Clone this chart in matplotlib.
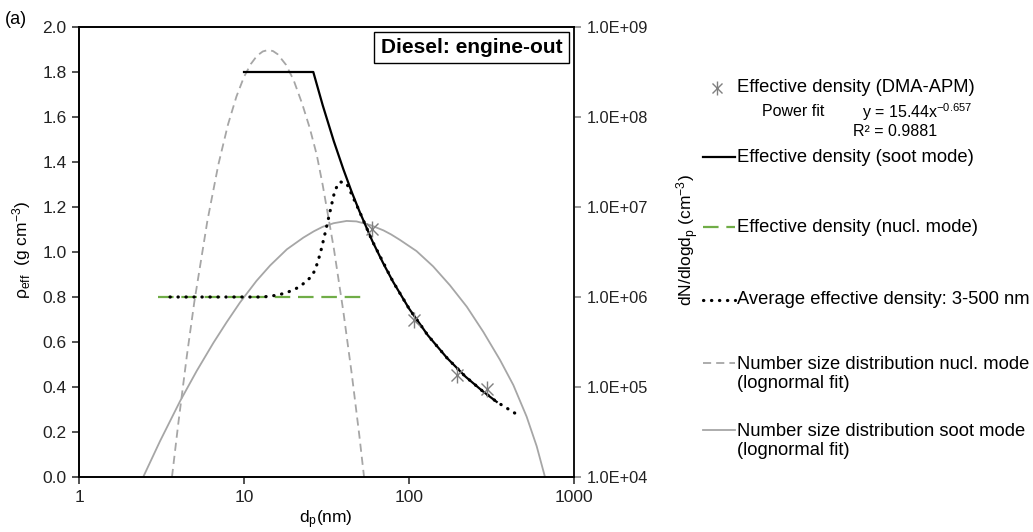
import matplotlib
matplotlib.use("Agg")
import matplotlib.pyplot as plt
from matplotlib.lines import Line2D
from matplotlib.ticker import FixedLocator, FixedFormatter, NullLocator

plt.rcParams['font.family'] = ['Liberation Sans', 'DejaVu Sans']
plt.rcParams['mathtext.fontset'] = 'custom'
plt.rcParams['mathtext.rm'] = 'Liberation Sans'
plt.rcParams['mathtext.it'] = 'Liberation Sans:italic'

# Effective density measured with DMA-APM
dma_dp = [60, 107, 196, 295]
dma_rho = [1.10, 0.70, 0.455, 0.39]

# Effective density of soot mode (power fit, capped at 1.8)
soot_dp = [10, 26.3, 30, 35, 40, 45, 50, 60, 70, 80, 100, 130, 170, 220, 280, 340]
soot_rho = [1.80, 1.80, 1.652, 1.493, 1.368, 1.266, 1.182, 1.048, 0.948, 0.868,
            0.749, 0.630, 0.529, 0.446, 0.381, 0.334]

# Effective density of nucleation mode
nucl_dp = [3.0, 51]
nucl_rho = [0.80, 0.80]

# Average effective density 3-500 nm
avg_dp = [3.56, 6, 10, 13, 15.5, 18, 21, 23.5, 25.5, 27, 29, 31, 33.2, 35.6, 38.2,
          41.9, 50, 60, 80, 100, 130, 170, 220, 280, 340, 440]
avg_rho = [0.80, 0.80, 0.80, 0.80, 0.807, 0.818, 0.84, 0.865, 0.89, 0.92, 0.994,
           1.083, 1.179, 1.276, 1.312, 1.305, 1.182, 1.048, 0.868, 0.749, 0.630,
           0.529, 0.446, 0.381, 0.334, 0.283]

# Number size distribution, nucleation mode (lognormal fit)
nsd_nucl_dp = [3.66, 4, 4.5, 5, 6, 7, 8, 9, 10, 11, 12, 13, 14, 15, 16, 18, 20,
               22.5, 25, 27.6, 30, 35, 40, 45, 50, 53.4]
nsd_nucl_n = [1.0e4, 3.97e4, 2.19e5, 8.83e5, 7.03e6, 2.99e7, 8.26e7, 1.69e8, 2.79e8,
              3.88e8, 4.80e8, 5.35e8, 5.55e8, 5.4e8, 4.98e8, 3.79e8, 2.56e8,
              1.41e8, 7.6e7, 3.8e7, 1.75e7, 3.5e6, 6.9e5, 1.39e5, 2.89e4, 1.0e4]

# Number size distribution, soot mode (lognormal fit)
nsd_soot_dp = [2.45, 3.10, 4.09, 5.17, 6.52, 7.85, 9.46, 11.9, 14.4, 18.2, 22.9,
               26.5, 30, 35, 41.9, 48, 58.1, 70, 78, 88.1, 111, 140, 177, 224, 282,
               356, 429, 516, 594, 667]
nsd_soot_n = [1.0e4, 2.51e4, 6.92e4, 1.51e5, 3.09e5, 5.25e5, 8.7e5, 1.51e6, 2.24e6,
              3.39e6, 4.57e6, 5.37e6, 6.03e6, 6.61e6, 7.0e6, 6.92e6, 6.31e6, 5.5e6,
              4.95e6, 4.31e6, 3.24e6, 2.19e6, 1.35e6, 7.8e5, 4.1e5, 2.0e5, 1.05e5,
              4.7e4, 2.2e4, 1.0e4]

x_ticks = [1, 10, 100, 1000]
rho_ticks = [0.0, 0.2, 0.4, 0.6, 0.8, 1.0, 1.2, 1.4, 1.6, 1.8, 2.0]
n_ticks = [1e4, 1e5, 1e6, 1e7, 1e8, 1e9]
n_tick_labels = ['1.0E+04', '1.0E+05', '1.0E+06', '1.0E+07', '1.0E+08', '1.0E+09']

GREEN = '#70ad47'
GRAY = '#a6a6a6'
DOTS = (0, (0.1, 2.4))
W, H = 1033, 532


def fig_xy(x, y):
    return x / W, 1 - y / H


fig = plt.figure(figsize=(W / 100, H / 100), dpi=100)
ax = fig.add_axes([79 / W, 55 / H, 495 / W, 450 / H])
ax2 = ax.twinx()

# number size distributions on the right axis
ax2.plot(nsd_nucl_dp, nsd_nucl_n, color=GRAY, lw=1.3, linestyle=(0, (4.5, 2.8)))
ax2.plot(nsd_soot_dp, nsd_soot_n, color=GRAY, lw=1.3)
ax2.set_yscale('log')
ax2.set_ylim(1e4, 1e9)
ax2.yaxis.set_major_locator(FixedLocator(n_ticks))
ax2.yaxis.set_major_formatter(FixedFormatter(n_tick_labels))
ax2.yaxis.set_minor_locator(NullLocator())

# densities on the left axis, drawn above the twin axes
ax.set_zorder(ax2.get_zorder() + 1)
ax.patch.set_visible(False)
ax.plot(nucl_dp, nucl_rho, color=GREEN, lw=1.6, linestyle=(0, (7, 3.5)))
ax.plot(soot_dp, soot_rho, color='black', lw=1.6)
ax.plot(avg_dp, avg_rho, color='black', lw=2.3, linestyle=DOTS,
        dash_capstyle='round')
ax.plot(dma_dp, dma_rho, linestyle='none', marker='x', ms=9, mew=1.0, color='#808080')
ax.plot(dma_dp, dma_rho, linestyle='none', marker='|', ms=12, mew=1.0, color='#808080')

ax.set_xscale('log')
ax.set_xlim(1, 1000)
ax.set_ylim(0, 2.0)
ax.xaxis.set_major_locator(FixedLocator(x_ticks))
ax.xaxis.set_major_formatter(FixedFormatter([str(v) for v in x_ticks]))
ax.xaxis.set_minor_locator(NullLocator())
ax.yaxis.set_major_locator(FixedLocator(rho_ticks))
ax.yaxis.set_major_formatter(FixedFormatter(['%.1f' % v for v in rho_ticks]))

for a in (ax, ax2):
    a.tick_params(direction='out', length=5, width=1.1, labelsize=12.5, pad=4,
                  colors='#222222')
    for s in a.spines.values():
        s.set_linewidth(1.2)
ax2.spines['right'].set_color('#7f7f7f')
ax2.tick_params(axis='y', colors='#7f7f7f', labelcolor='#222222', labelsize=11.8)

ax.text(0.793, 0.954, 'Diesel: engine-out', transform=ax.transAxes, fontsize=15,
        fontweight='bold', ha='center', va='center',
        bbox=dict(boxstyle='square,pad=0.3', fc='white', ec='black', lw=1.0))

fig.text(*fig_xy(5, 19), '(a)', fontsize=13, va='center', ha='left')
fig.text(*fig_xy(22, 250), r'ρ$_{\rm eff}$  (g cm$^{-3}$)', rotation=90,
         fontsize=12.5, ha='center', va='center')
fig.text(*fig_xy(688, 240), r'dN/dlogd$_{\rm p}$ (cm$^{-3}$)', rotation=90,
         fontsize=12.5, ha='center', va='center')
fig.text(*fig_xy(326, 520), r'd$_{\rm p}$(nm)', fontsize=12.5, ha='center', va='center')

# legend, laid out by hand
tx = 737
hx0, hx1 = 703, 735
lfs = 13.2


def handle(y, **kw):
    (x0, yy), (x1, _) = fig_xy(hx0, y), fig_xy(hx1, y)
    fig.add_artist(Line2D([x0, x1], [yy, yy], transform=fig.transFigure, **kw))


mx, my = fig_xy(717, 88)
fig.add_artist(Line2D([mx], [my], transform=fig.transFigure, marker='x', ms=7,
                      mew=1.0, color='#808080'))
fig.add_artist(Line2D([mx], [my], transform=fig.transFigure, marker='|', ms=10,
                      mew=1.0, color='#808080'))
fig.text(*fig_xy(tx, 88), 'Effective density (DMA-APM)', fontsize=lfs, va='center')
fig.text(*fig_xy(762, 112), 'Power fit', fontsize=11.5, va='center')
fig.text(*fig_xy(862, 112), r'y = 15.44x$^{-0.657}$', fontsize=11.5, va='center')
fig.text(*fig_xy(853, 132), 'R² = 0.9881', fontsize=11.5, va='center')

handle(157, color='black', lw=1.6)
fig.text(*fig_xy(tx, 157), 'Effective density (soot mode)', fontsize=lfs, va='center')
handle(227, color=GREEN, lw=1.6, linestyle=(0, (7, 3.5)))
fig.text(*fig_xy(tx, 227), 'Effective density (nucl. mode)', fontsize=lfs, va='center')
handle(300, color='black', lw=2.3, linestyle=DOTS, dash_capstyle='round')
fig.text(*fig_xy(tx, 300), 'Average effective density: 3-500 nm', fontsize=lfs,
         va='center')
handle(363, color=GRAY, lw=1.3, linestyle=(0, (4.5, 2.8)))
fig.text(*fig_xy(tx, 374), 'Number size distribution nucl. mode\n(lognormal fit)',
         fontsize=lfs, va='center', linespacing=1.15)
handle(430, color=GRAY, lw=1.3)
fig.text(*fig_xy(tx, 441), 'Number size distribution soot mode\n(lognormal fit)',
         fontsize=lfs, va='center', linespacing=1.15)

fig.savefig('out.png', dpi=100)
